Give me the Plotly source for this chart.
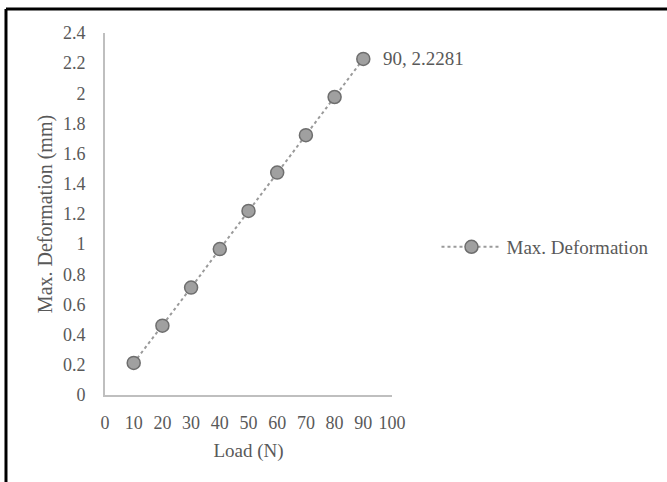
import plotly.graph_objects as go

load_n = [10, 20, 30, 40, 50, 60, 70, 80, 90]
max_deformation = [0.2126, 0.4596, 0.7122, 0.9672, 1.2206, 1.4745, 1.7227, 1.9757, 2.2281]
series_name = "Max. Deformation"
x_ticks = [0, 10, 20, 30, 40, 50, 60, 70, 80, 90, 100]
y_ticks = [0, 0.2, 0.4, 0.6, 0.8, 1, 1.2, 1.4, 1.6, 1.8, 2, 2.2, 2.4]
y_tick_text = ["0", "0.2", "0.4", "0.6", "0.8", "1", "1.2", "1.4", "1.6", "1.8", "2", "2.2", "2.4"]

FONT = "Liberation Serif, Times New Roman, serif"
TXT = "#595959"

fig = go.Figure()
fig.add_trace(go.Scatter(
    x=load_n, y=max_deformation, name=series_name, mode="lines+markers",
    line=dict(color="#9a9a9a", width=2, dash="dot"),
    marker=dict(size=13, color="#a0a0a0", line=dict(color="#6e6e6e", width=1.5)),
    showlegend=True,
))

fig.add_annotation(
    x=load_n[-1], y=max_deformation[-1], text=f"{load_n[-1]}, {max_deformation[-1]}",
    showarrow=False, xanchor="left", yanchor="middle", xshift=18,
    font=dict(family=FONT, size=19, color=TXT),
)

# frame: top and left edges only
fig.add_shape(type="line", xref="paper", yref="paper",
              x0=-0.345, y0=1.066, x1=2.0, y1=1.066,
              line=dict(color="black", width=3))
fig.add_shape(type="line", xref="paper", yref="paper",
              x0=-0.345, y0=-0.6, x1=-0.345, y1=1.066,
              line=dict(color="black", width=3))

fig.update_layout(
    width=667, height=482,
    margin=dict(l=105, r=275, t=33, b=87),
    paper_bgcolor="white", plot_bgcolor="white",
    font=dict(family=FONT, size=18, color=TXT),
    legend=dict(x=1.155, y=0.409, xanchor="left", yanchor="middle",
                font=dict(family=FONT, size=19, color=TXT),
                bgcolor="rgba(0,0,0,0)", itemwidth=60),
    xaxis=dict(range=[0, 100], tickvals=x_ticks, showgrid=False, zeroline=False,
               showline=True, linecolor="#bfbfbf", linewidth=2, ticks="",
               ticklabelstandoff=10,
               title=dict(text="Load (N)", standoff=12, font=dict(size=19, color=TXT))),
    yaxis=dict(range=[0, 2.4], tickvals=y_ticks, ticktext=y_tick_text, showgrid=False,
               zeroline=False, showline=True, linecolor="#bfbfbf", linewidth=2, ticks="",
               ticklabelstandoff=14,
               title=dict(text="Max. Deformation (mm)", standoff=5, font=dict(size=20, color=TXT))),
)

fig.write_html("out.html")
